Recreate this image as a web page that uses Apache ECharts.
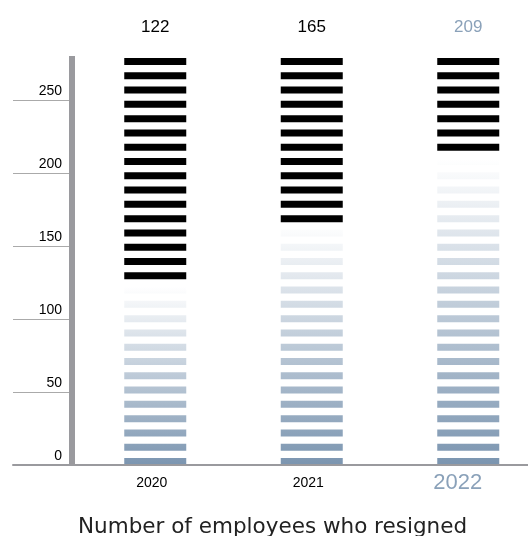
<!DOCTYPE html>
<html>
<head>
<meta charset="utf-8">
<script src="https://cdn.jsdelivr.net/npm/echarts@6/dist/echarts.min.js"></script>
<style>
  html, body { margin: 0; padding: 0; background: #fff; }
  #chart { width: 528px; height: 536px; }
</style>
</head>
<body>
<div id="chart"></div>
<script>
// data
const years = ['2020', '2021', '2022'];
const resigned = [122, 165, 209];
const yMax = 280;
const yStep = 50;
const chartTitle = 'Number of employees who resigned';

// stripe look (in axis units)
const STRIPE_PITCH = 9.78;
const STRIPE_THICK = 4.8;
const STRIPE_COUNT = 29;
const BAR_W = 62;
const GREY = '#9a9a9e';
const BLUE = '#7b95b0';
const valueColors = ['#000', '#000', '#8aa1b9'];
const NUM_FONT = '"Liberation Sans", Arial, sans-serif';

const chart = echarts.init(document.getElementById('chart'));

function renderStripes(params, api) {
    const cat = api.value(0);
    const val = api.value(1);
    const base = api.coord([cat, 0]);
    const top = api.coord([cat, val]);
    const capY = api.coord([cat, yMax])[1];
    const grad = new echarts.graphic.LinearGradient(0, base[1], 0, top[1], [
        { offset: 0, color: BLUE },
        { offset: 1, color: '#ffffff' }
    ], true);
    const children = [];
    for (let k = 0; k < STRIPE_COUNT; k++) {
        const lo = k * STRIPE_PITCH;
        const p0 = api.coord([cat, lo]);
        const p1 = api.coord([cat, lo + STRIPE_THICK]);
        children.push({
            type: 'rect',
            shape: { x: p0[0] - BAR_W / 2, y: p1[1], width: BAR_W, height: p0[1] - p1[1] },
            style: { fill: lo < val ? grad : '#000' }
        });
    }
    children.push({
        type: 'text',
        style: {
            text: String(val),
            x: base[0],
            y: capY - 29,
            align: 'center',
            verticalAlign: 'middle',
            fill: valueColors[cat],
            font: '17px ' + NUM_FONT
        }
    });
    return { type: 'group', children: children };
}

const option = {
    animation: false,
    title: {
        text: chartTitle,
        left: 73,
        top: 511,
        textStyle: {
            fontFamily: '"DejaVu Sans", sans-serif',
            fontSize: 21.5,
            fontWeight: 'normal',
            color: '#222'
        }
    },
    grid: [
        { left: 77, width: 469.5, top: 56, bottom: 71, outerBoundsMode: 'none' },
        { left: 13, width: 59, top: 56, bottom: 71, outerBoundsMode: 'none' },
        { left: 13, right: 0, top: 56, bottom: 71, outerBoundsMode: 'none' }
    ],
    xAxis: [
        {
            gridIndex: 0,
            type: 'category',
            data: years,
            axisLine: { show: false },
            axisTick: { show: false },
            axisLabel: {
                margin: 18,
                verticalAlign: 'middle',
                formatter: function (v) {
                    return v === '2022' ? '{hi|' + v + '}' : '{n|' + v + '}';
                },
                rich: {
                    n: { fontSize: 14, color: '#000', fontFamily: NUM_FONT, padding: [0, 7, 0, 0] },
                    hi: { fontSize: 22, color: '#8aa1b9', fontFamily: NUM_FONT, padding: [0, 21, 0, 0] }
                }
            }
        },
        { gridIndex: 1, type: 'value', show: false },
        {
            gridIndex: 2,
            type: 'value',
            z: 10,
            axisLine: { show: true, lineStyle: { color: GREY, width: 2 } },
            axisTick: { show: false },
            axisLabel: { show: false },
            splitLine: { show: false }
        }
    ],
    yAxis: [
        { gridIndex: 0, type: 'value', min: 0, max: yMax, show: false },
        {
            gridIndex: 1,
            type: 'value',
            min: 0,
            max: yMax,
            interval: yStep,
            position: 'right',
            axisLine: { show: true, onZero: false, lineStyle: { color: GREY, width: 6, cap: 'butt' } },
            axisTick: { show: false },
            axisLabel: {
                inside: true,
                margin: 10,
                verticalAlign: 'bottom',
                padding: [0, 0, 2, 0],
                color: '#000',
                fontSize: 14,
                fontFamily: NUM_FONT,
                showMaxLabel: false
            },
            splitLine: { show: true, showMaxLine: false, lineStyle: { color: '#aaa', width: 1 } }
        },
        { gridIndex: 2, type: 'value', min: 0, max: yMax, show: false }
    ],
    series: [
        {
            type: 'custom',
            xAxisIndex: 0,
            yAxisIndex: 0,
            renderItem: renderStripes,
            encode: { x: 0, y: 1 },
            data: resigned.map(function (v, i) { return [i, v]; })
        }
    ]
};

chart.setOption(option);
</script>
</body>
</html>
